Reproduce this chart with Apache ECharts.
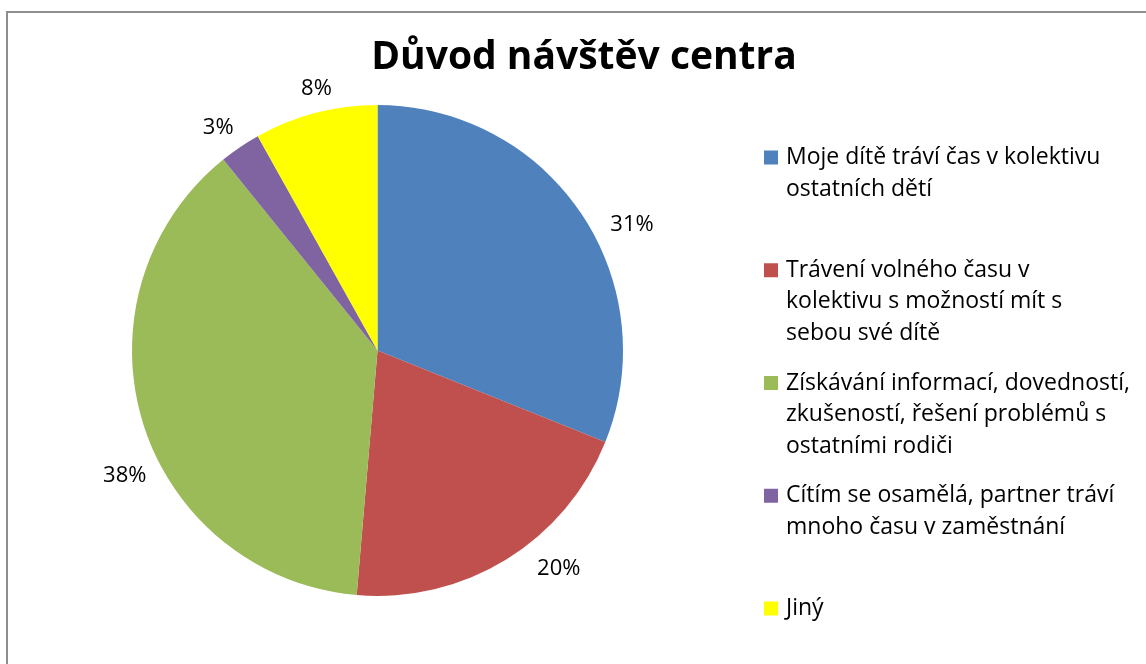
<!DOCTYPE html>
<html>
<head>
<meta charset="utf-8">
<script src="https://cdn.jsdelivr.net/npm/echarts@6/dist/echarts.min.js"></script>
<style>
html, body { margin: 0; padding: 0; background: #fff; overflow: hidden; width: 1146px; height: 664px; }
#frame { position: absolute; left: 6px; top: 11px; width: 1300px; height: 800px; border-left: 2px solid #8e8e8e; border-top: 2px solid #8e8e8e; box-sizing: border-box; }
#chart { position: absolute; left: 0; top: 0; width: 1146px; height: 664px; }
</style>
</head>
<body>
<div id="frame"></div>
<div id="chart"></div>
<script>
// ---- data ----
const titleText = 'Důvod návštěv centra';
const categories = [
  'Moje dítě tráví čas v kolektivu\nostatních dětí',
  'Trávení volného času v\nkolektivu s možností mít s\nsebou své dítě',
  'Získávání informací, dovedností,\nzkušeností, řešení problémů s\nostatními rodiči',
  'Cítím se osamělá, partner tráví\nmnoho času v zaměstnání',
  'Jiný'
];
const values = [23, 15, 28, 2, 6];
const colors = ['#4F81BD', '#C0504D', '#9BBB59', '#8064A2', '#FFFF00'];

// ---- styling / layout ----
const FONT = 'Open Sans';
const LEGEND_FS = 23;
const LH = 31.5;
const legendFirstCenter = 157.5;
const legendPitch = 112.75;
const labelShift = [[12, 20], [18, -4], [23, 49], [7, -7], [25, -10]];

const legends = categories.map(function (name, i) {
  const n = name.split('\n').length;
  const block = (2 * n - 1) * LH;
  const center = legendFirstCenter + i * legendPitch;
  return {
    data: [name],
    orient: 'vertical',
    left: 764,
    top: center - block / 2,
    padding: 0,
    icon: 'rect',
    itemWidth: 14,
    itemHeight: 14,
    selectedMode: false,
    formatter: function (nm) {
      return '\n'.repeat(nm.split('\n').length - 1) + nm;
    },
    textStyle: {
      fontFamily: FONT,
      fontSize: LEGEND_FS,
      lineHeight: LH,
      color: '#000',
      padding: [0, 0, 0, 3]
    }
  };
});

const chart = echarts.init(document.getElementById('chart'), null, { renderer: 'canvas' });
chart.setOption({
  backgroundColor: 'transparent',
  animation: false,
  color: colors,
  title: {
    text: titleText,
    left: 584,
    top: 38,
    textAlign: 'center',
    padding: 0,
    textStyle: { fontFamily: FONT, fontSize: 39, fontWeight: 'bold', color: '#000' }
  },
  legend: legends,
  series: [{
    type: 'pie',
    center: [377.5, 350.5],
    radius: 245.5,
    startAngle: 90,
    clockwise: true,
    avoidLabelOverlap: false,
    itemStyle: { borderWidth: 0 },
    emphasis: { disabled: true },
    label: {
      show: true,
      position: 'outside',
      fontFamily: FONT,
      fontSize: 22,
      color: '#000',
      formatter: function (p) { return Math.round(p.percent) + '%'; }
    },
    labelLine: { show: false, length: 15, length2: 0 },
    labelLayout: function (p) {
      const s = labelShift[p.dataIndex];
      return { dx: s[0], dy: s[1] };
    },
    data: categories.map(function (c, i) { return { name: c, value: values[i] }; })
  }]
});
</script>
</body>
</html>
